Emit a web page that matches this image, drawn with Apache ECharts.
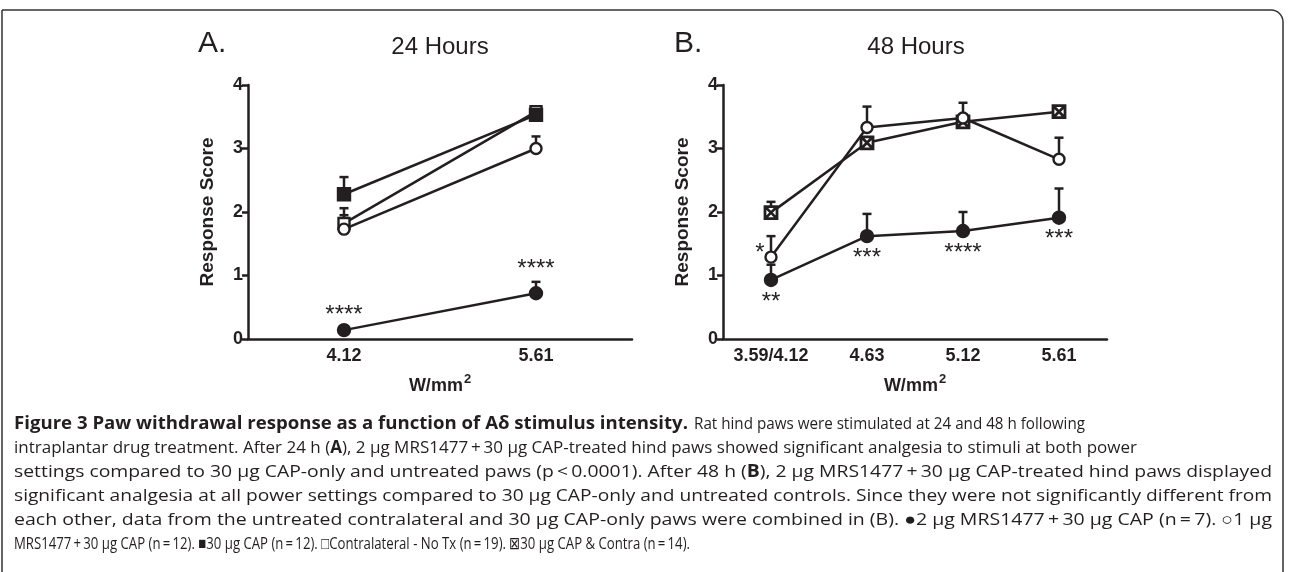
<!DOCTYPE html>
<html>
<head>
<meta charset="utf-8">
<script src="https://cdn.jsdelivr.net/npm/echarts@6/dist/echarts.min.js"></script>
<style>
html,body{margin:0;padding:0;background:#fff;}
#chart{width:1290px;height:572px;}
</style>
</head>
<body>
<div id="chart"></div>
<script>
// ---------- DATA ----------
const catsA = ['4.12', '5.61'];
const catsB = ['3.59/4.12', '4.63', '5.12', '5.61'];

// Panel A (24 h)
const mrs2A = [0.14, 0.72];      // filled circle: 2 µg MRS1477 + 30 µg CAP
const mrs2A_err = [0.04, 0.18];
const mrs1A = [1.73, 3.00];      // open circle: 1 µg MRS1477 + 30 µg CAP
const mrs1A_err = [0.22, 0.19];
const capA = [2.28, 3.53];       // filled square: 30 µg CAP
const capA_err = [0.27, 0.05];
const contraA = [1.82, 3.58];    // open square: Contralateral - No Tx
const contraA_err = [0.24, 0.04];
const starsA = ['****', '****'];

// Panel B (48 h)
const mrs2B = [0.93, 1.62, 1.70, 1.91];
const mrs2B_err = [0.24, 0.35, 0.30, 0.46];
const mrs1B = [1.29, 3.33, 3.48, 2.83];
const mrs1B_err = [0.33, 0.33, 0.24, 0.34];
const mixB = [1.99, 3.09, 3.42, 3.58];   // crossed square: 30 µg CAP & Contra
const mixB_err = [0.17, 0.05, 0.05, 0.04];
const starsB_mrs2 = ['**', '***', '****', '***'];
const starsB_mrs1 = ['*', '', '', ''];

const yMin = 0, yMax = 4, yInterval = 1;

// caption pieces: [line index, segments]
const captionPieces = [
  [0, [['Figure 3 Paw withdrawal response as a function of A\u03b4 stimulus intensity.', true]]],
  [0, [['Rat hind paws were stimulated at 24 and 48 h following', false]]],
  [1, [['intraplantar drug treatment. After 24 h (', false], ['A', true], ['), 2 \u00b5g MRS1477\u2009+\u200930 \u00b5g CAP-treated hind paws showed significant analgesia to stimuli at both power', false]]],
  [2, [['settings compared to 30 \u00b5g CAP-only and untreated paws (p\u2009<\u20090.0001). After 48 h (', false], ['B', true], ['), 2 \u00b5g MRS1477\u2009+\u200930 \u00b5g CAP-treated hind paws displayed', false]]],
  [3, [['significant analgesia at all power settings compared to 30 \u00b5g CAP-only and untreated controls. Since they were not significantly different from', false]]],
  [4, [['each other, data from the untreated contralateral and 30 \u00b5g CAP-only paws were combined in (B). \u25cf2 \u00b5g MRS1477\u2009+\u200930 \u00b5g CAP (n\u2009=\u20097). \u25cb1 \u00b5g', false]]],
  [5, [['MRS1477\u2009+\u200930 \u00b5g CAP (n\u2009=\u200912). \u25a030 \u00b5g CAP (n\u2009=\u200912). \u25a1Contralateral - No Tx (n\u2009=\u200919). \u22a030 \u00b5g CAP & Contra (n\u2009=\u200914).', false]]]
];
const captionSpans = [[14, 688], [694, 1085], [14, 1137], [14, 1272], [14, 1272], [14, 1272], [14, 690]];

// ---------- STYLE ----------
const INK = '#231f20';
const FONT = '"Liberation Sans", Arial, Helvetica, sans-serif';
const CAPFONT = '"Open Sans", "Noto Sans", sans-serif';
const LW = 2.5;

const chart = echarts.init(document.getElementById('chart'), null, {renderer: 'canvas'});

function grid(left) { return {left: left, width: 384, top: 85, height: 254, containLabel: false}; }

function xAxis(idx, cats) {
  return {
    type: 'category', gridIndex: idx, data: cats, boundaryGap: true,
    axisLine: {lineStyle: {color: INK, width: LW}},
    axisTick: {alignWithLabel: true, length: 6, lineStyle: {color: INK, width: LW}},
    axisLabel: {interval: 0, hideOverlap: false, color: INK, fontFamily: FONT, fontWeight: 'bold', fontSize: 18, margin: 8},
    name: '{a|W/mm}{b|2}', nameLocation: 'middle', nameGap: 34,
    nameTextStyle: {
      rich: {
        a: {fontFamily: FONT, fontWeight: 'bold', fontSize: 18, color: INK, lineHeight: 22, verticalAlign: 'bottom'},
        b: {fontFamily: FONT, fontWeight: 'bold', fontSize: 13, color: INK, lineHeight: 22, verticalAlign: 'top', padding: [0, 0, 6, 1]}
      }
    },
    splitLine: {show: false}
  };
}

function yAxis(idx) {
  return {
    type: 'value', gridIndex: idx, min: yMin, max: yMax, interval: yInterval,
    axisLine: {show: true, lineStyle: {color: INK, width: LW}},
    axisTick: {show: true, length: 6, lineStyle: {color: INK, width: LW}},
    axisLabel: {color: INK, fontFamily: FONT, fontWeight: 'bold', fontSize: 18, margin: 5},
    name: 'Response Score', nameLocation: 'middle', nameGap: 31, nameRotate: 90,
    nameTextStyle: {color: INK, fontFamily: FONT, fontWeight: 'bold', fontSize: 19},
    splitLine: {show: false}
  };
}

const SYM = {
  filledCircle: {symbol: 'circle', size: 12, fill: INK, bw: 2.4},
  openCircle: {symbol: 'circle', size: 11, fill: '#fff', bw: 2.4},
  filledSquare: {symbol: 'rect', size: 12, fill: INK, bw: 2.4},
  openSquare: {symbol: 'rect', size: 11, fill: '#fff', bw: 2.4},
  crossSquare: {symbol: 'path://M0,0L10,0L10,10L0,10ZM0,0L10,10M10,0L0,10', size: 12, fill: '#fff', bw: 2.8}
};

function lineSeries(idx, values, sym, z) {
  const s = SYM[sym];
  return {
    type: 'line', xAxisIndex: idx, yAxisIndex: idx, data: values,
    symbol: s.symbol, symbolSize: s.size, showSymbol: true, z: z || 3,
    lineStyle: {color: INK, width: LW},
    itemStyle: {color: s.fill, borderColor: INK, borderWidth: s.bw},
    emphasis: {disabled: true}, animation: false
  };
}

function errSeries(idx, values, errs) {
  return {
    type: 'custom', xAxisIndex: idx, yAxisIndex: idx, z: 2, animation: false,
    data: values.map((v, i) => [i, v, errs[i]]),
    renderItem: function (params, api) {
      const i = api.value(0), v = api.value(1), e = api.value(2);
      const p0 = api.coord([i, v]);
      const p1 = api.coord([i, v + e]);
      return {
        type: 'group', children: [
          {type: 'line', shape: {x1: p0[0], y1: p0[1], x2: p1[0], y2: p1[1]}, style: {stroke: INK, lineWidth: LW}},
          {type: 'line', shape: {x1: p1[0] - 4.5, y1: p1[1], x2: p1[0] + 4.5, y2: p1[1]}, style: {stroke: INK, lineWidth: LW}}
        ]
      };
    }
  };
}

// stars: anchor value, pixel offsets dx, dy
function starSeries(idx, anchors, texts, dx, dy) {
  return {
    type: 'custom', xAxisIndex: idx, yAxisIndex: idx, z: 5, animation: false,
    data: anchors.map((v, i) => [i, v, texts[i]]),
    renderItem: function (params, api) {
      const i = api.value(0), v = api.value(1);
      const t = texts[params.dataIndex];
      const p = api.coord([i, v]);
      return {
        type: 'text', x: p[0] + dx, y: p[1] + dy,
        style: {text: t, fill: INK, font: '24px ' + FONT, align: 'center', verticalAlign: 'middle'}
      };
    }
  };
}

const series = [
  // Panel A
  errSeries(0, mrs2A, mrs2A_err),
  errSeries(0, mrs1A, mrs1A_err),
  errSeries(0, capA, capA_err),
  errSeries(0, contraA, contraA_err),
  lineSeries(0, contraA, 'openSquare', 3),
  lineSeries(0, capA, 'filledSquare', 3),
  lineSeries(0, mrs1A, 'openCircle', 4),
  lineSeries(0, mrs2A, 'filledCircle', 4),
  starSeries(0, mrs2A.map((v, i) => v + mrs2A_err[i]), starsA, 0, -12),
  // Panel B
  errSeries(1, mrs2B, mrs2B_err),
  errSeries(1, mrs1B, mrs1B_err),
  errSeries(1, mixB, mixB_err),
  lineSeries(1, mixB, 'crossSquare', 3),
  lineSeries(1, mrs1B, 'openCircle', 4),
  lineSeries(1, mrs2B, 'filledCircle', 4),
  starSeries(1, mrs2B, starsB_mrs2, 0, 22),
  starSeries(1, mrs1B, starsB_mrs1, -11, -4)
];

// ---------- caption (measured and horizontally fitted) ----------
const mctx = document.createElement('canvas').getContext('2d');
const CAPSIZE = 17;
function segFont(bold) { return (bold ? 'bold ' : '') + CAPSIZE + 'px ' + CAPFONT; }
const captionGraphics = captionPieces.map((piece, pi) => {
  const li = piece[0], segs = piece[1];
  let w = 0;
  segs.forEach(s => { mctx.font = segFont(s[1]); w += mctx.measureText(s[0]).width; });
  const x0 = captionSpans[pi][0];
  const sx = (captionSpans[pi][1] - x0) / w;
  const text = segs.map(s => '{' + (s[1] ? 'b' : 'r') + '|' + s[0] + '}').join('');
  return {
    type: 'text', x: x0, y: 424 + li * 24, scaleX: sx, scaleY: 1, silent: true,
    style: {
      text: text, verticalAlign: 'middle', fill: INK,
      rich: {
        r: {font: segFont(false), fill: INK},
        b: {font: segFont(true), fill: INK}
      }
    }
  };
});

const option = {
  backgroundColor: '#fff',
  animation: false,
  grid: [grid(248), grid(723)],
  xAxis: [xAxis(0, catsA), xAxis(1, catsB)],
  yAxis: [yAxis(0), yAxis(1)],
  series: series,
  graphic: [
    {type: 'rect', silent: true, shape: {x: 2, y: 10, width: 1281, height: 620, r: [0, 12, 0, 0]},
     style: {fill: 'none', stroke: '#333', lineWidth: 1.5}},
    {type: 'text', x: 198, y: 44, style: {text: 'A.', font: '30px ' + FONT, fill: INK, verticalAlign: 'middle'}},
    {type: 'text', x: 440, y: 47, style: {text: '24 Hours', font: '24px ' + FONT, fill: INK, align: 'center', verticalAlign: 'middle'}},
    {type: 'text', x: 674, y: 44, style: {text: 'B.', font: '30px ' + FONT, fill: INK, verticalAlign: 'middle'}},
    {type: 'text', x: 916, y: 47, style: {text: '48 Hours', font: '24px ' + FONT, fill: INK, align: 'center', verticalAlign: 'middle'}}
  ].concat(captionGraphics)
};
chart.setOption(option);
</script>
</body>
</html>
